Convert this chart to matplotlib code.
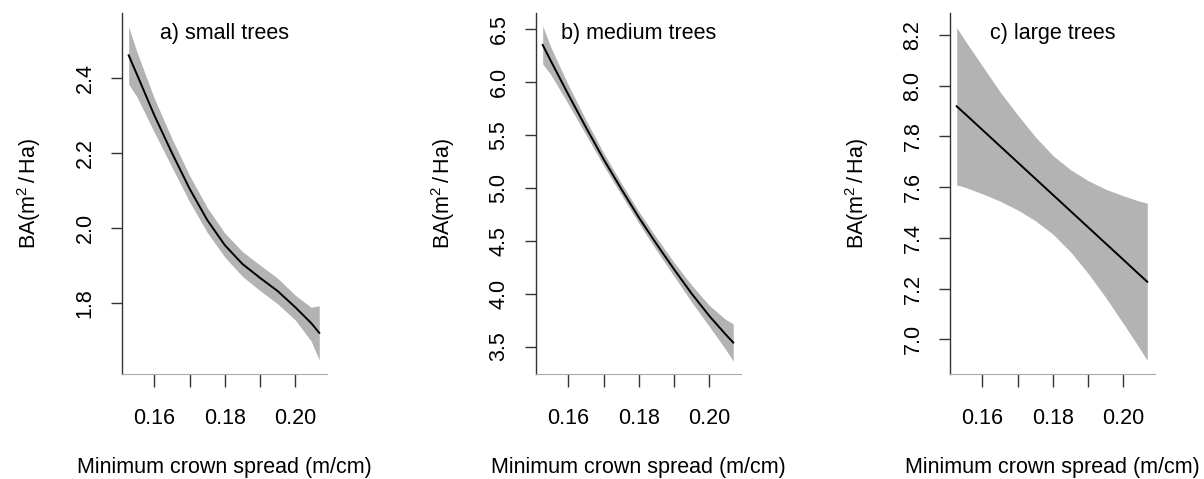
import matplotlib
matplotlib.use("Agg")
import matplotlib.pyplot as plt

plt.rcParams['font.family'] = ['Liberation Sans', 'DejaVu Sans']
plt.rcParams['mathtext.fontset'] = 'custom'
plt.rcParams['mathtext.rm'] = 'Liberation Sans'

# === Data ===
crown = [0.1527, 0.155, 0.16, 0.165, 0.17, 0.175, 0.18, 0.185, 0.19, 0.195, 0.20, 0.2045, 0.2068]

small_fit = [2.46, 2.41, 2.30, 2.20, 2.105, 2.022, 1.955, 1.905, 1.868, 1.833, 1.79, 1.748, 1.722]
small_up = [2.536, 2.47, 2.345, 2.238, 2.14, 2.055, 1.987, 1.938, 1.902, 1.867, 1.822, 1.79, 1.794]
small_lo = [2.383, 2.35, 2.255, 2.162, 2.07, 1.989, 1.923, 1.872, 1.834, 1.799, 1.756, 1.70, 1.649]

medium_fit = [6.35, 6.20, 5.88, 5.57, 5.27, 4.99, 4.72, 4.47, 4.23, 4.00, 3.79, 3.62, 3.538]
medium_up = [6.53, 6.33, 5.97, 5.64, 5.33, 5.045, 4.775, 4.53, 4.295, 4.08, 3.89, 3.76, 3.715]
medium_lo = [6.17, 6.07, 5.79, 5.50, 5.21, 4.935, 4.665, 4.41, 4.165, 3.92, 3.69, 3.48, 3.362]

large_fit = [7.919, 7.890, 7.826, 7.762, 7.698, 7.634, 7.570, 7.506, 7.442, 7.378, 7.314, 7.256, 7.227]
large_up = [8.229, 8.18, 8.078, 7.976, 7.885, 7.799, 7.725, 7.669, 7.626, 7.592, 7.566, 7.545, 7.537]
large_lo = [7.609, 7.60, 7.574, 7.545, 7.51, 7.468, 7.415, 7.345, 7.26, 7.165, 7.062, 6.967, 6.917]

titles = ["a) small trees", "b) medium trees", "c) large trees"]
ylims = [(1.6125, 2.5725), (3.241, 6.652), (6.863, 8.287)]
yticks = [[1.8, 2.0, 2.2, 2.4],
          [3.5, 4.0, 4.5, 5.0, 5.5, 6.0, 6.5],
          [7.0, 7.2, 7.4, 7.6, 7.8, 8.0, 8.2]]
xticks = [0.16, 0.17, 0.18, 0.19, 0.20]
xlabels = ["0.16", "", "0.18", "", "0.20"]

panels = [(small_fit, small_up, small_lo),
          (medium_fit, medium_up, medium_lo),
          (large_fit, large_up, large_lo)]

W, H = 1204, 479
FS = 15.5
fig = plt.figure(figsize=(W / 100, H / 100), dpi=100)

lefts = [122, 536, 950]
for i, (fit, up, lo) in enumerate(panels):
    ax = fig.add_axes([lefts[i] / W, (H - 374) / H, 205 / W, 361 / H])
    ax.fill_between(crown, lo, up, color='#b3b3b3', linewidth=0)
    ax.plot(crown, fit, color='black', linewidth=1.4)
    ax.set_xlim(0.1508, 0.2090)
    ax.set_ylim(*ylims[i])

    ax.spines['top'].set_visible(False)
    ax.spines['right'].set_visible(False)
    ax.spines['left'].set_color('#333333')
    ax.spines['left'].set_linewidth(1.0)
    ax.spines['bottom'].set_color('#aaaaaa')
    ax.spines['bottom'].set_linewidth(0.8)

    ax.set_xticks(xticks)
    ax.set_xticklabels(xlabels)
    ax.set_yticks(yticks[i])
    ax.set_yticklabels(["%.1f" % v for v in yticks[i]], rotation=90, va='center')
    ax.tick_params(axis='x', direction='out', length=9.4, width=1.0, color='#333333',
                   labelsize=FS, pad=15)
    ax.tick_params(axis='y', direction='out', length=8, width=1.0, color='#333333',
                   labelsize=FS, pad=11)

    ax.text(0.5, 0.944, titles[i], transform=ax.transAxes, ha='center', va='center',
            fontsize=FS)
    ax.set_xlabel("Minimum crown spread (m/cm)", fontsize=FS, labelpad=20)
    ax.set_ylabel(r'$\mathregular{BA(m^{2}\,/\,Ha)}$', fontsize=FS, labelpad=23)

fig.savefig("out.png", dpi=100)
